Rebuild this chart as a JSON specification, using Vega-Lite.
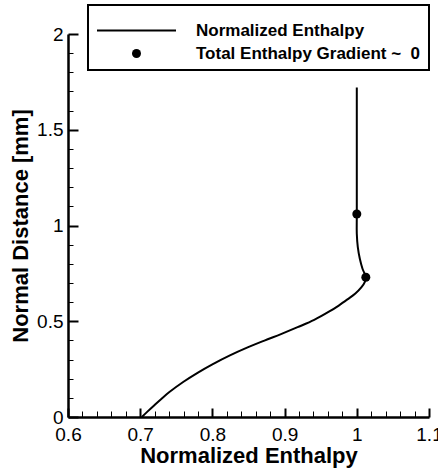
{
  "$schema": "https://vega.github.io/schema/vega-lite/v6.json",
  "width": 361,
  "height": 383,
  "autosize": {"type": "none"},
  "padding": {"left": 68, "top": 34, "right": 9, "bottom": 51},
  "background": "white",
  "config": {
    "view": {"stroke": null},
    "font": "Liberation Sans",
    "axis": {
      "domainColor": "black",
      "domainWidth": 2.5,
      "tickColor": "black",
      "grid": false,
      "labelFont": "Liberation Sans",
      "labelFontSize": 19,
      "labelColor": "black",
      "titleFont": "Liberation Sans",
      "titleFontSize": 22,
      "titleFontWeight": "bold",
      "titleColor": "black"
    }
  },
  "datasets": {
    "curve": [
      {"h": 0.7023, "d": 0.0, "s": "Normalized Enthalpy"},
      {"h": 0.71, "d": 0.028, "s": "Normalized Enthalpy"},
      {"h": 0.72, "d": 0.063, "s": "Normalized Enthalpy"},
      {"h": 0.73, "d": 0.097, "s": "Normalized Enthalpy"},
      {"h": 0.74, "d": 0.129, "s": "Normalized Enthalpy"},
      {"h": 0.76, "d": 0.184, "s": "Normalized Enthalpy"},
      {"h": 0.78, "d": 0.232, "s": "Normalized Enthalpy"},
      {"h": 0.8, "d": 0.275, "s": "Normalized Enthalpy"},
      {"h": 0.825, "d": 0.323, "s": "Normalized Enthalpy"},
      {"h": 0.848, "d": 0.362, "s": "Normalized Enthalpy"},
      {"h": 0.872, "d": 0.399, "s": "Normalized Enthalpy"},
      {"h": 0.895, "d": 0.433, "s": "Normalized Enthalpy"},
      {"h": 0.918, "d": 0.469, "s": "Normalized Enthalpy"},
      {"h": 0.941, "d": 0.507, "s": "Normalized Enthalpy"},
      {"h": 0.962, "d": 0.551, "s": "Normalized Enthalpy"},
      {"h": 0.975, "d": 0.582, "s": "Normalized Enthalpy"},
      {"h": 0.987, "d": 0.614, "s": "Normalized Enthalpy"},
      {"h": 0.998, "d": 0.645, "s": "Normalized Enthalpy"},
      {"h": 1.0065, "d": 0.678, "s": "Normalized Enthalpy"},
      {"h": 1.0112, "d": 0.706, "s": "Normalized Enthalpy"},
      {"h": 1.0125, "d": 0.73, "s": "Normalized Enthalpy"},
      {"h": 1.0079, "d": 0.774, "s": "Normalized Enthalpy"},
      {"h": 1.0042, "d": 0.826, "s": "Normalized Enthalpy"},
      {"h": 1.0014, "d": 0.887, "s": "Normalized Enthalpy"},
      {"h": 1.0, "d": 0.957, "s": "Normalized Enthalpy"},
      {"h": 1.0, "d": 1.06, "s": "Normalized Enthalpy"},
      {"h": 1.0, "d": 1.72, "s": "Normalized Enthalpy"}
    ],
    "dots": [
      {"h": 1.0, "d": 1.06, "s": "Total Enthalpy Gradient ~\u00a0\u00a00"},
      {"h": 1.0125, "d": 0.73, "s": "Total Enthalpy Gradient ~\u00a0\u00a00"}
    ]
  },
  "resolve": {"axis": {"x": "independent", "y": "independent"}},
  "layer": [
    {
      "data": {"name": "curve"},
      "mark": {"type": "line", "interpolate": "catmull-rom", "strokeWidth": 2, "color": "black"},
      "encoding": {
        "x": {
          "field": "h", "type": "quantitative",
          "scale": {"domain": [0.6, 1.1], "zero": false, "nice": false},
          "axis": {
            "orient": "bottom",
            "values": [0.6, 0.7, 0.8, 0.9, 1.0, 1.1],
            "format": "~g",
            "tickSize": -9,
            "tickWidth": 2,
            "labelPadding": 17,
            "labelFlush": false,
            "title": "Normalized Enthalpy",
            "titlePadding": 1
          }
        },
        "y": {
          "field": "d", "type": "quantitative",
          "scale": {"domain": [0, 2], "zero": false, "nice": false},
          "axis": {
            "orient": "left",
            "values": [0, 0.5, 1, 1.5, 2],
            "format": "~g",
            "tickSize": -10,
            "tickWidth": 2,
            "labelPadding": 15,
            "labelFlush": false,
            "title": "Normal Distance [mm]",
            "titlePadding": 4
          }
        },
        "order": {"field": "d", "type": "quantitative"},
        "color": {
          "field": "s", "type": "nominal",
          "scale": {"domain": ["Normalized Enthalpy", "Total Enthalpy Gradient ~\u00a0\u00a00"], "range": ["black", "black"]},
          "legend": {
            "orient": "none",
            "legendX": 20,
            "legendY": -29,
            "title": " ",
            "titleFontSize": 8,
            "titlePadding": 1,
            "padding": 8,
            "strokeColor": "black",
            "fillColor": "white",
            "labelFont": "Liberation Sans",
            "labelFontWeight": "bold",
            "labelFontSize": 17,
            "labelColor": "black",
            "labelOffset": 83,
            "labelLimit": 400,
            "rowPadding": 5,
            "symbolSize": 100,
            "symbolType": "circle",
            "encode": {
              "legend": {
                "update": {
                  "strokeWidth": {"value": 2}
                }
              },
              "symbols": {
                "update": {
                  "shape": {"signal": "datum.value === 'Normalized Enthalpy' ? 'M-1,0H1' : 'circle'"},
                  "size": {"signal": "datum.value === 'Normalized Enthalpy' ? 6241 : 81"},
                  "x": {"value": 40.5},
                  "strokeWidth": {"signal": "datum.value === 'Normalized Enthalpy' ? 2 : 0"},
                  "fill": {"value": "black"},
                  "stroke": {"value": "black"},
                  "opacity": {"value": 1},
                  "fillOpacity": {"value": 1},
                  "strokeOpacity": {"value": 1}
                }
              }
            }
          }
        }
      }
    },
    {
      "data": {"name": "dots"},
      "mark": {"type": "point", "filled": true, "opacity": 1, "size": 81, "strokeWidth": 0},
      "encoding": {
        "x": {
          "field": "h", "type": "quantitative",
          "scale": {"domain": [0.6, 1.1], "zero": false, "nice": false},
          "axis": {
            "orient": "bottom",
            "values": [0.62, 0.64, 0.66, 0.68, 0.72, 0.74, 0.76, 0.78, 0.82, 0.84, 0.86, 0.88, 0.92, 0.94, 0.96, 0.98, 1.02, 1.04, 1.06, 1.08],
            "labels": false,
            "domain": false,
            "tickSize": -6,
            "tickWidth": 1,
            "title": null
          }
        },
        "y": {
          "field": "d", "type": "quantitative",
          "scale": {"domain": [0, 2], "zero": false, "nice": false},
          "axis": {
            "orient": "left",
            "values": [0.1, 0.2, 0.3, 0.4, 0.6, 0.7, 0.8, 0.9, 1.1, 1.2, 1.3, 1.4, 1.6, 1.7, 1.8, 1.9],
            "labels": false,
            "domain": false,
            "tickSize": -5,
            "tickWidth": 1,
            "title": null
          }
        },
        "color": {
          "field": "s", "type": "nominal",
          "scale": {"domain": ["Normalized Enthalpy", "Total Enthalpy Gradient ~\u00a0\u00a00"], "range": ["black", "black"]}
        }
      }
    }
  ]
}
